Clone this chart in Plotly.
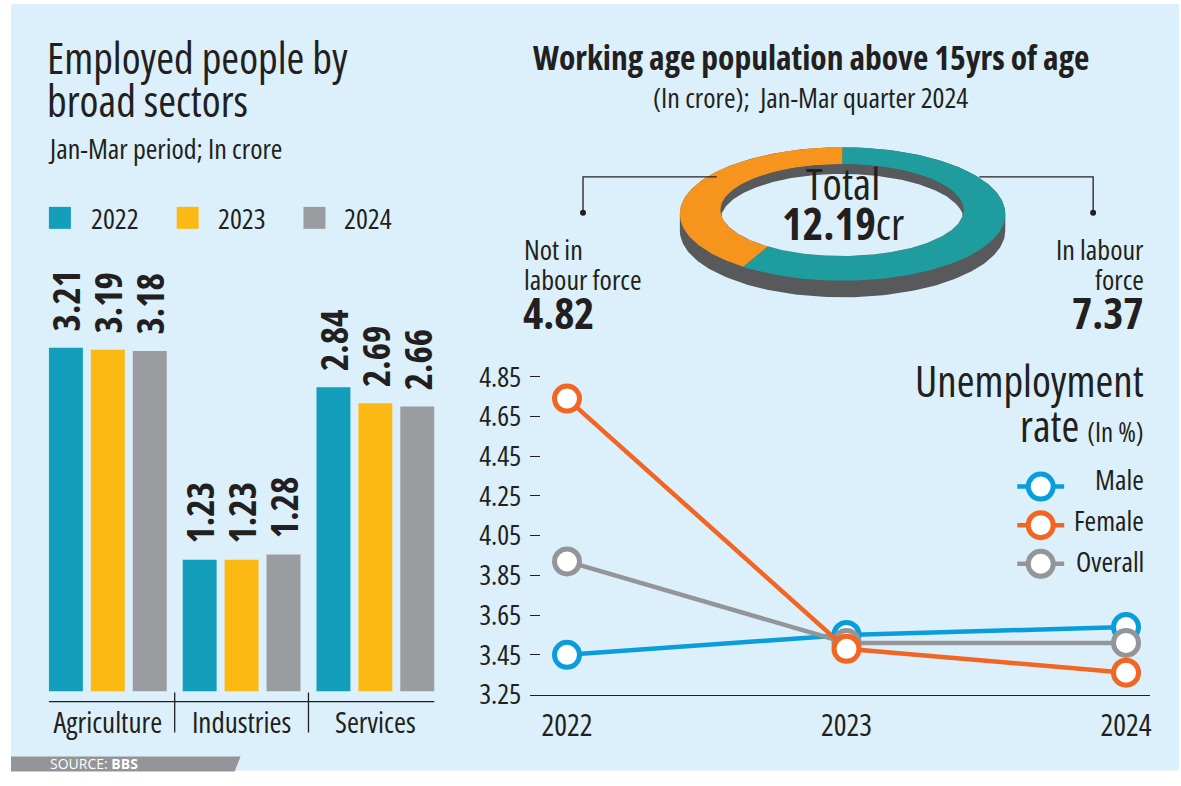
import numpy as np
import plotly.graph_objects as go

W, H = 1181, 786
HE = 768.5  # height of the figure as it appears in the captured picture

# ---------------- data ----------------
sectors = ["Agriculture", "Industries", "Services"]
bar_years = ["2022", "2023", "2024"]
emp_2022 = [3.21, 1.23, 2.84]
emp_2023 = [3.19, 1.23, 2.69]
emp_2024 = [3.18, 1.28, 2.66]

pop_labels = ["In labour force", "Not in labour force"]
pop_values = [7.37, 4.82]
pop_total = 12.19

ur_years = [2022, 2023, 2024]
ur_male = [3.45, 3.55, 3.59]
ur_female = [4.74, 3.48, 3.36]
ur_overall = [3.92, 3.51, 3.51]
ur_ticks = [3.25, 3.45, 3.65, 3.85, 4.05, 4.25, 4.45, 4.65, 4.85]

# ---------------- styles ----------------
FONT = "Open Sans, sans-serif"
DARK = "#231F20"
BG = "#DCF0FB"
BAR_COLORS = ["#139EBB", "#FDB913", "#9A9C9F"]
C_MALE, C_FEMALE, C_OVERALL = "#0A9DDB", "#F26522", "#939598"
C_TEAL, C_ORANGE, C_SIDE = "#1F9C9D", "#F7941D", "#58595B"
NB = "\u00a0"


def C(s):
    return f"<span style='font-stretch:condensed'>{s}</span>"


def px(x):
    return x / W


def py(y):
    return 1 - y / HE


fig = go.Figure()

# ---------------- bar chart ----------------
for yr, vals, col in zip(bar_years, [emp_2022, emp_2023, emp_2024], BAR_COLORS):
    fig.add_trace(go.Bar(
        x=sectors, y=vals, name=yr, marker=dict(color=col, line=dict(width=0)),
        text=[C(NB * 2 + f"{v:.2f}") for v in vals], textposition="outside", textangle=-90,
        textfont=dict(family=FONT, size=37, color=DARK, weight="bold"),
        cliponaxis=False, constraintext="none", showlegend=False,
        xaxis="x", yaxis="y", hoverinfo="skip"))

# ---------------- line chart ----------------
for name, vals, col in [("Male", ur_male, C_MALE), ("Overall", ur_overall, C_OVERALL),
                        ("Female", ur_female, C_FEMALE)]:
    fig.add_trace(go.Scatter(
        x=ur_years, y=vals, name=name, mode="lines+markers",
        line=dict(color=col, width=4.5),
        marker=dict(size=25, color="white", line=dict(color=col, width=5)),
        cliponaxis=False, showlegend=False, xaxis="x2", yaxis="y2", hoverinfo="skip"))

# ---------------- 3D donut (overlay axis in picture pixels) ----------------
cx, cy, rx, ry = 844, 201.5, 163, 68.3
icx, icy, irx, iry = 843.5, 197.5, 121.7, 47
depth, idepth = 17, 10

t = np.linspace(0, np.pi, 120)
side_x = list(cx + rx * np.cos(t)) + list(cx + rx * np.cos(t + np.pi))
side_y = list(cy + depth + ry * np.sin(t)) + list(cy + ry * np.sin(t + np.pi))
fig.add_trace(go.Scatter(x=side_x, y=side_y, fill="toself", fillcolor=C_SIDE,
                         mode="lines", line=dict(width=0), xaxis="x3", yaxis="y3",
                         hoverinfo="skip", showlegend=False))

fracs = np.array(pop_values) / sum(pop_values)
start = 0.0
for frac, col in zip(fracs, [C_TEAL, C_ORANGE]):
    ph = np.linspace(start, start + frac * 2 * np.pi, 160)
    ox = cx + rx * np.sin(ph)
    oy = cy - ry * np.cos(ph)
    ix = icx + irx * np.sin(ph[::-1])
    iy = icy - iry * np.cos(ph[::-1])
    fig.add_trace(go.Scatter(x=list(ox) + list(ix), y=list(oy) + list(iy), fill="toself",
                             fillcolor=col, mode="lines", line=dict(width=0),
                             xaxis="x3", yaxis="y3", hoverinfo="skip", showlegend=False))
    start += frac * 2 * np.pi

tt = np.linspace(0, 2 * np.pi, 240)
fig.add_trace(go.Scatter(x=icx + irx * np.cos(tt), y=icy + iry * np.sin(tt), fill="toself",
                         fillcolor=C_SIDE, mode="lines", line=dict(width=0),
                         xaxis="x3", yaxis="y3", hoverinfo="skip", showlegend=False))
xs = np.linspace(-1, 1, 200)
hh = iry * np.sqrt(np.clip(1 - xs ** 2, 0, 1))
mask = hh > idepth / 2
xs, hh = xs[mask], hh[mask]
top = icy + idepth - hh
bot = icy + hh
fig.add_trace(go.Scatter(x=list(icx + irx * xs) + list(icx + irx * xs[::-1]),
                         y=list(top) + list(bot[::-1]), fill="toself", fillcolor=BG,
                         mode="lines", line=dict(width=0), xaxis="x3", yaxis="y3",
                         hoverinfo="skip", showlegend=False))

# legend keys for the line chart
for ky, col in [(480.5, C_MALE), (520, C_FEMALE), (559.5, C_OVERALL)]:
    fig.add_trace(go.Scatter(x=[1019, 1066], y=[ky, ky], mode="lines",
                             line=dict(color=col, width=4.5), xaxis="x3", yaxis="y3",
                             hoverinfo="skip", showlegend=False))
    fig.add_trace(go.Scatter(x=[1042.5], y=[ky], mode="markers",
                             marker=dict(size=25, color="white", line=dict(color=col, width=5)),
                             xaxis="x3", yaxis="y3", hoverinfo="skip", showlegend=False))

# ---------------- shapes ----------------
shapes = []
shapes.append(dict(type="rect", xref="paper", yref="paper", x0=px(11), x1=px(1181),
                   y0=py(771), y1=py(4), fillcolor=BG, line=dict(width=0), layer="below"))
shapes.append(dict(type="path", xref="paper", yref="paper",
                   path=f"M {px(11)},{py(757)} L {px(241)},{py(757)} L {px(235)},{py(772)} L {px(11)},{py(772)} Z",
                   fillcolor="#939598", line=dict(width=0), layer="below"))
shapes.append(dict(type="line", xref="paper", yref="paper", x0=px(49), x1=px(435),
                   y0=py(702), y1=py(702), line=dict(color=DARK, width=1.3)))
for dx in [175, 309]:
    shapes.append(dict(type="line", xref="paper", yref="paper", x0=px(dx), x1=px(dx),
                       y0=py(693), y1=py(733), line=dict(color=DARK, width=1.3)))
for sx, col in zip([49, 177, 304], BAR_COLORS):
    shapes.append(dict(type="rect", xref="paper", yref="paper", x0=px(sx), x1=px(sx + 22),
                       y0=py(229), y1=py(207), fillcolor=col, line=dict(width=0)))
shapes.append(dict(type="path", xref="paper", yref="paper",
                   path=f"M {px(584)},{py(213)} L {px(584)},{py(177)} L {px(718)},{py(177)}",
                   line=dict(color=DARK, width=1.3)))
shapes.append(dict(type="path", xref="paper", yref="paper",
                   path=f"M {px(981)},{py(177)} L {px(1095)},{py(177)} L {px(1095)},{py(213)}",
                   line=dict(color=DARK, width=1.3)))
for dx in [584, 1095]:
    shapes.append(dict(type="circle", xref="paper", yref="paper", x0=px(dx - 3), x1=px(dx + 3),
                       y0=py(216), y1=py(210), fillcolor=DARK, line=dict(width=0)))

# ---------------- annotations ----------------
anns = []


def ann(text, x, y, size, xanchor="left", bold=False, color=DARK, cond=True):
    f = dict(family=FONT, size=size, color=color, weight="bold" if bold else "normal")
    anns.append(dict(text=C(text) if cond else text, x=px(x), y=py(y), xref="paper",
                     yref="paper", xanchor=xanchor, yanchor="middle", showarrow=False, font=f))


ann("Employed people by", 45, 58, 43)
ann("broad sectors", 45, 101, 43)
ann("Jan-Mar period; In crore", 46, 148, 28)
for tx, yr in zip([89, 216, 343], bar_years):
    ann(yr, tx, 218, 28)

ann("Working age population above 15yrs of age", 812, 57, 33.5, "center", bold=True)
ann(f"(In crore);  Jan-Mar quarter {2024}", 812, 97, 28, "center")
ann("Total", 844, 183, 44, "center")
ann(f"<b>{pop_total:.2f}</b>cr", 844, 223, 44, "center")
ann("Not in", 523, 249, 28)
ann("labour force", 523, 279, 28)
ann(f"{pop_values[1]:.2f}", 522, 313, 43, bold=True)
ann("In labour", 1148, 249, 28, "right")
ann("force", 1148, 279, 28, "right")
ann(f"{pop_values[0]:.2f}", 1148, 313, 43, "right", bold=True)

ann("Unemployment", 1148, 381, 43, "right")
ann("rate <span style='font-size:27px'>(In %)</span>", 1148, 426, 43, "right")
ann("Male", 1148, 479, 28, "right")
ann("Female", 1148, 520, 28, "right")
ann("Overall", 1148, 561, 28, "right")

ann("SOURCE: <b>BBS</b>", 48, 764, 14, color="#FFFFFF", cond=False)

# ---------------- layout ----------------
fig.update_layout(
    width=W, height=H, margin=dict(l=0, r=0, t=0, b=0), autosize=False,
    paper_bgcolor="white", plot_bgcolor="rgba(0,0,0,0)",
    barmode="group", bargap=0.06, bargroupgap=0.19,
    shapes=shapes, annotations=anns, showlegend=False,
    xaxis=dict(domain=[px(41), px(443)], range=[-0.5, 2.5], showgrid=False, zeroline=False,
               showline=False, ticks="", tickvals=sectors, ticktext=[C(s) for s in sectors],
               tickfont=dict(family=FONT, size=29, color=DARK),
               ticklabelstandoff=11, anchor="y", fixedrange=True),
    yaxis=dict(domain=[py(692), py(263.2)], range=[0, 4], visible=False, anchor="x",
               fixedrange=True),
    xaxis2=dict(domain=[px(531), px(1152)], range=[2021.868, 2024.086], tickvals=ur_years,
                ticktext=[C(str(y)) for y in ur_years], showgrid=False, zeroline=False,
                showline=True, linecolor=DARK, linewidth=1.3, ticks="",
                tickfont=dict(family=FONT, size=30, color=DARK), ticklabelstandoff=4,
                anchor="y2", fixedrange=True),
    yaxis2=dict(domain=[py(695), py(357.1)], range=[3.25, 4.95], tickvals=ur_ticks,
                ticktext=[C(f"{v:.2f}") for v in ur_ticks], showgrid=False, zeroline=False,
                showline=False, ticks="inside", ticklen=10, tickwidth=1.3, tickcolor=DARK,
                tickfont=dict(family=FONT, size=28, color=DARK), ticklabelstandoff=8,
                anchor="x2", fixedrange=True),
    xaxis3=dict(domain=[0, 1], range=[0, W], visible=False, anchor="y3", fixedrange=True),
    yaxis3=dict(domain=[0, 1], range=[HE, HE - H], visible=False, anchor="x3",
                fixedrange=True),
)

fig.write_html("out.html", config={"responsive": False, "displayModeBar": False})
